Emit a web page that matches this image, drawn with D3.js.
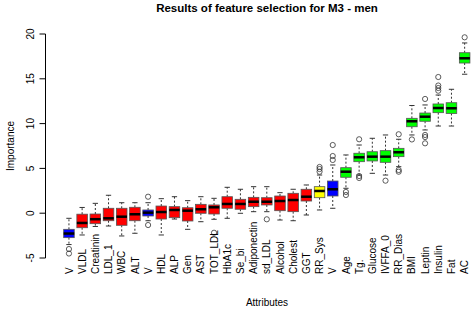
<!DOCTYPE html>
<html><head><meta charset="utf-8">
<script src="https://cdn.jsdelivr.net/npm/d3@7"></script>
<style>body{margin:0;background:#fff}svg{display:block}text{font-family:"Liberation Sans",Arial,sans-serif}</style>
</head><body><svg id="c" width="472" height="311"></svg>
<script>
const attributes = ["V","VLDL","Creatinin","LDL_1","WBC","ALT","V","HDL","ALP","Gen","AST","TOT_LDL","HbA1c","Se_bi","Adiponectin","sd_LDL","Alcohol","Cholest","GGT","RR_Sys","V","Age","Tg.","Glucose","IVFFA_0","RR_Dias","BMI","Leptin","Insulin","Fat","AC"];
const decision = ["shadow","Rejected","Rejected","Rejected","Rejected","Rejected","shadow","Rejected","Rejected","Rejected","Rejected","Rejected","Rejected","Rejected","Rejected","Rejected","Rejected","Rejected","Rejected","Tentative","shadow","Confirmed","Confirmed","Confirmed","Confirmed","Confirmed","Confirmed","Confirmed","Confirmed","Confirmed","Confirmed"];
const whiskerLow  = [-3.5,-2.43,-1.48,-1.43,-2.54,-2.24,-0.84,-2.43,-0.65,-1.80,-0.95,-0.68,-0.57,-0.01,0.17,0.17,-0.76,-0.84,-0.20,0.36,0.55,2.78,4.26,4.45,4.26,5.19,8.73,9.29,9.73,9.73,15.51];
const q1          = [-2.73,-1.62,-1.17,-0.84,-1.35,-0.84,-0.31,-0.65,-0.50,-0.87,-0.01,-0.09,0.55,0.44,0.73,0.92,0.28,0.17,1.36,1.73,1.92,4.01,5.75,5.83,5.68,6.31,9.65,10.26,11.22,11.13,16.76];
const median      = [-2.27,-1.09,-0.67,-0.57,-0.39,-0.12,0.06,0.13,0.36,0.28,0.44,0.66,1.03,1.03,1.28,1.28,1.36,1.47,1.84,2.48,2.67,4.63,6.24,6.31,6.31,6.80,10.26,10.77,11.74,11.71,17.29];
const q3          = [-1.80,-0.11,-0.09,0.55,0.55,0.66,0.36,0.80,0.73,0.61,0.99,0.92,1.84,1.55,1.77,1.73,1.92,2.22,2.67,2.96,3.59,5.08,6.69,6.86,6.98,7.24,10.59,11.18,12.19,12.33,17.91];
const whiskerHigh = [-0.57,0.64,1.10,2.00,1.17,1.17,1.17,1.62,1.84,1.40,1.84,1.66,2.89,2.67,2.96,2.96,2.29,2.67,3.15,4.26,5.38,6.50,7.61,8.36,8.73,8.25,12.02,12.08,13.19,13.83,19.00];
const outliers    = [[-4.0,-4.5],[],[],[],[],[],[1.84,-1.32],[],[],[],[],[-2.18],[],[],[],[-0.68],[],[],[],[4.63,4.93,5.16],[5.94,6.38,7.61],[2.37,2.03],[8.25,4.15,3.93],[],[3.63],[8.81,4.82,4.63],[8.23],[12.75,8.73,8.5,7.8],[13.67,13.97,14.25,15.2],[],[19.63]];
const yTicks = [-5,0,5,10,15,20];
const colors = {shadow:"#0000FF",Rejected:"#FF0000",Tentative:"#FFFF00",Confirmed:"#00FF00"};

const svg = d3.select("#c");
const n = attributes.length;
const x = d3.scaleLinear().domain([-0.74, n + 1.74]).range([46, 487.6]);
const y = d3.scaleLinear().domain([-5, 20]).range([258, 34]);
const step = x(2) - x(1);
const bw = step * 0.8;

// title
svg.append("text").attr("x", 267).attr("y", 11.5).attr("text-anchor","middle")
  .attr("font-weight","bold").attr("font-size", 11.5).text("Results of feature selection for M3 - men");

// y axis
const yAxis = svg.append("g").attr("transform","translate(45.5,0)");
yAxis.append("line").attr("x1",0).attr("x2",0).attr("y1",y(-5)).attr("y2",y(20)).attr("stroke","#000");
yTicks.forEach(t=>{
  yAxis.append("line").attr("x1",0).attr("x2",-6).attr("y1",y(t)).attr("y2",y(t)).attr("stroke","#000");
  yAxis.append("text").attr("transform",`translate(-11.5,${y(t)}) rotate(-90)`).attr("text-anchor","middle")
    .attr("font-size",10).text(t);
});
svg.append("text").attr("transform","translate(13.5,146) rotate(-90)").attr("text-anchor","middle")
  .attr("font-size",10).text("Importance");
svg.append("text").attr("x",267).attr("y",306).attr("text-anchor","middle").attr("font-size",10).text("Attributes");

// boxes
const g = svg.append("g");
attributes.forEach((a,i)=>{
  const cx = x(i+1);
  g.append("line").attr("x1",cx).attr("x2",cx).attr("y1",y(q3[i])).attr("y2",y(whiskerHigh[i]))
    .attr("stroke","#333").attr("stroke-dasharray","2,2");
  g.append("line").attr("x1",cx).attr("x2",cx).attr("y1",y(q1[i])).attr("y2",y(whiskerLow[i]))
    .attr("stroke","#333").attr("stroke-dasharray","2,2");
  [whiskerHigh[i], whiskerLow[i]].forEach(w=>{
    g.append("line").attr("x1",cx-bw/4).attr("x2",cx+bw/4).attr("y1",y(w)).attr("y2",y(w)).attr("stroke","#333");
  });
  g.append("rect").attr("x",cx-bw/2).attr("width",bw).attr("y",y(q3[i])).attr("height",y(q1[i])-y(q3[i]))
    .attr("fill",colors[decision[i]]).attr("stroke","#555").attr("stroke-width",0.8);
  g.append("line").attr("x1",cx-bw/2).attr("x2",cx+bw/2).attr("y1",y(median[i])).attr("y2",y(median[i]))
    .attr("stroke","#000").attr("stroke-width",2.5);
  outliers[i].forEach(o=>{
    g.append("circle").attr("cx",cx).attr("cy",y(o)).attr("r",2.6).attr("fill","none").attr("stroke","#333").attr("stroke-width",0.8);
  });
  svg.append("text").attr("transform",`translate(${cx+3.6},274) rotate(-90)`).attr("text-anchor","start")
    .attr("font-size",10).text(a);
});
</script></body></html>
